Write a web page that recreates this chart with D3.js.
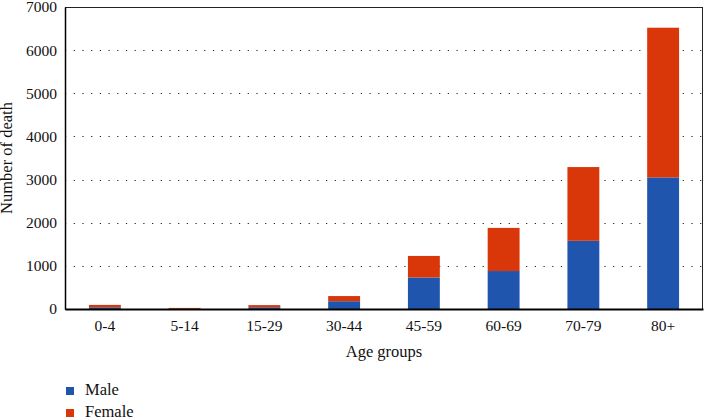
<!DOCTYPE html>
<html>
<head>
<meta charset="utf-8">
<script src="https://cdn.jsdelivr.net/npm/d3@7"></script>
<style>
  body { margin: 0; background: #fff; }
</style>
</head>
<body>
<svg id="chart"></svg>
<script>
// data
var ageGroups = ["0-4", "5-14", "15-29", "30-44", "45-59", "60-69", "70-79", "80+"];
var male   = [40, 5, 40, 180, 730, 880, 1580, 3050];
var female = [55, 20, 50, 120, 500, 1000, 1710, 3470];
var yTicks = [0, 1000, 2000, 3000, 4000, 5000, 6000, 7000];
var seriesNames = ["Male", "Female"];

var FONT = "'Liberation Serif'";
var W = 704, H = 417;
var margin = {top: 7, right: 1, bottom: 108, left: 65},
    width = W - margin.left - margin.right,
    height = H - margin.top - margin.bottom;

var root = d3.select("#chart")
    .attr("width", W)
    .attr("height", H);

var svg = root.append("g")
    .attr("transform", "translate(" + margin.left + "," + margin.top + ")");

var rows = ageGroups.map(function(g, i) {
  return {group: g, Male: male[i], Female: female[i]};
});

var x = d3.scaleBand()
    .domain(ageGroups)
    .range([0, width])
    .paddingInner(0.6)
    .paddingOuter(0.3);

var y = d3.scaleLinear()
    .domain([0, 7000])
    .range([height, 0]);

var color = d3.scaleOrdinal()
    .domain(seriesNames)
    .range(["#1f55ad", "#d9360a"]);

// dotted grid lines
svg.append("g")
  .selectAll("line")
  .data(yTicks.slice(1, -1))
  .enter().append("line")
    .attr("x1", 0)
    .attr("x2", width)
    .attr("y1", function(d) { return Math.round(y(d)) + 0.5; })
    .attr("y2", function(d) { return Math.round(y(d)) + 0.5; })
    .attr("stroke", "#222")
    .attr("stroke-width", 1.2)
    .attr("stroke-dasharray", "1.2,7.5");

// stacked bars
var stacked = d3.stack().keys(seriesNames)(rows);
svg.append("g")
  .selectAll("g")
  .data(stacked)
  .enter().append("g")
    .attr("fill", function(d) { return color(d.key); })
  .selectAll("rect")
  .data(function(d) { return d; })
  .enter().append("rect")
    .attr("x", function(d) { return x(d.data.group); })
    .attr("y", function(d) { return y(d[1]); })
    .attr("width", x.bandwidth())
    .attr("height", function(d) { return y(d[0]) - y(d[1]); });

// frame
svg.append("rect")
    .attr("x", 0.5)
    .attr("y", 0.5)
    .attr("width", width - 1)
    .attr("height", height)
    .attr("fill", "none")
    .attr("stroke", "#222")
    .attr("stroke-width", 1);

// axes
var yAxis = svg.append("g")
    .call(d3.axisLeft(y).tickValues(yTicks).tickSize(0).tickPadding(8).tickFormat(d3.format("d")));
yAxis.select(".domain").attr("stroke", "#000").attr("stroke-width", 1.5);

var xAxis = svg.append("g")
    .attr("transform", "translate(0," + height + ")")
    .call(d3.axisBottom(x).tickSize(0).tickPadding(11));
xAxis.select(".domain").attr("stroke", "#000").attr("stroke-width", 2);

root.selectAll(".tick text")
    .attr("font-size", 15.5)
    .attr("fill", "#111");

// axis titles
svg.append("text")
    .attr("transform", "rotate(-90)")
    .attr("x", -height / 2)
    .attr("y", -53)
    .attr("text-anchor", "middle")
    .attr("font-size", 16.5)
    .attr("fill", "#111")
    .text("Number of death");

svg.append("text")
    .attr("x", width / 2)
    .attr("y", height + 48)
    .attr("text-anchor", "middle")
    .attr("font-size", 16.5)
    .attr("fill", "#111")
    .text("Age groups");

// legend
var legend = root.append("g")
  .selectAll("g")
  .data(seriesNames)
  .enter().append("g")
    .attr("transform", function(d, i) { return "translate(66," + (387 + i * 22) + ")"; });
legend.append("rect")
    .attr("width", 8)
    .attr("height", 8)
    .attr("fill", function(d) { return color(d); });
legend.append("text")
    .attr("x", 19)
    .attr("y", 8)
    .attr("font-size", 16.5)
    .attr("fill", "#111")
    .text(function(d) { return d; });

root.selectAll("text").style("font-family", FONT);
</script>
</body>
</html>
